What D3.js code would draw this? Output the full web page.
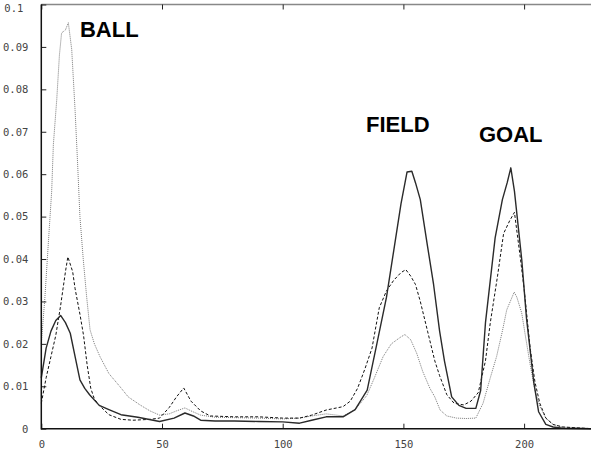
<!DOCTYPE html>
<html><head><meta charset="utf-8">
<script src="https://cdn.jsdelivr.net/npm/d3@7"></script>
<style>html,body{margin:0;padding:0;background:#fff;}svg{display:block;}</style>
</head><body>
<svg id="c" width="591" height="450"></svg>
<script>
// ---- data ----
const xTicks = [0, 50, 100, 150, 200];
const yTicks = [0, 0.01, 0.02, 0.03, 0.04, 0.05, 0.06, 0.07, 0.08, 0.09, 0.1];
const yTickLabels = ["0", "0.01", "0.02", "0.03", "0.04", "0.05", "0.06", "0.07", "0.08", "0.09", "0.1"];

const solidX = [0,2,4,6,8,10,12,14,16,18,20,24,28,33,40,49,55,59.5,63,66,72,80,90,100,107,112,118,125,130,135,139,143,146,149,151.5,153.5,155,157,160,162.5,165,167,170,173,176,180,182,184,188,191,193,194.5,196,199,201,203,204,206,209,212,216,228];
const solidY = [0.012,0.019,0.023,0.0255,0.0267,0.025,0.0225,0.017,0.0115,0.0095,0.008,0.0055,0.0045,0.0033,0.0027,0.0017,0.0025,0.0037,0.003,0.002,0.0018,0.0018,0.0017,0.0016,0.0013,0.002,0.0028,0.0028,0.0045,0.0091,0.02,0.031,0.042,0.053,0.0605,0.0607,0.058,0.054,0.043,0.034,0.023,0.016,0.0075,0.0055,0.0048,0.0048,0.009,0.025,0.045,0.054,0.058,0.0615,0.056,0.04,0.026,0.016,0.011,0.004,0.001,0.0004,0.0001,0];

const dashX = [0,2,4,6,8,10,11,13,14,16,17.5,19,20.5,22,24,28,33,38,45,49,53,56,59,62,66,70,80,90,100,107,112,118,125,128,131,134,137,140,143,146,149,151,153,155,157,160,163,165,168,171,175,178,181,184,186,189,191.5,194,196,198.5,200,202.5,204.5,206.5,209,212,216,222,228];
const dashY = [0.006,0.012,0.017,0.022,0.029,0.037,0.0405,0.037,0.033,0.027,0.022,0.015,0.0095,0.007,0.0055,0.0033,0.0022,0.002,0.0022,0.0025,0.005,0.0075,0.0096,0.0065,0.0042,0.003,0.0028,0.0028,0.0025,0.0025,0.0032,0.0044,0.0052,0.0065,0.0095,0.014,0.019,0.0285,0.0325,0.035,0.0368,0.0375,0.036,0.034,0.03,0.023,0.016,0.0125,0.008,0.006,0.0056,0.0065,0.0085,0.016,0.025,0.036,0.046,0.049,0.051,0.04,0.033,0.019,0.011,0.006,0.0025,0.001,0.0004,0.0002,0];

const dotX = [0,1.5,3,4.3,5,6.4,7.5,8.4,10,11.2,12.6,14,15,16,17.4,18.8,20.2,22,24.3,28,32.6,36,40.9,45,49,53,56,59.5,62,66,72,80,90,100,107,112,118,125,130,134.8,138,141.6,145,148.6,150.6,153,155.5,158,161,163,165.2,168,172,176,180,183,186,188.6,191,192.8,195.9,197,199,200.5,202.4,204.5,206.6,209,212,216,223,228];
const dotY = [0.02,0.031,0.0445,0.056,0.067,0.0776,0.088,0.0933,0.094,0.0957,0.0894,0.075,0.063,0.05,0.0398,0.031,0.0233,0.02,0.017,0.013,0.0099,0.0075,0.0056,0.0042,0.0032,0.0035,0.0042,0.0049,0.0042,0.0032,0.0027,0.0026,0.0025,0.0023,0.0025,0.003,0.0035,0.003,0.0045,0.0078,0.012,0.017,0.02,0.0215,0.0222,0.021,0.0178,0.0135,0.0095,0.0075,0.0044,0.003,0.0025,0.0024,0.0025,0.006,0.012,0.017,0.023,0.028,0.0322,0.031,0.0273,0.022,0.0155,0.009,0.0052,0.0025,0.001,0.0004,0.0002,0];

const labels = ["BALL", "FIELD", "GOAL"];
const labelX = [16.0, 134.5, 181.3];
const labelY = [0.0923, 0.0699, 0.0676];

// ---- chart ----
const svg = d3.select("#c");
const x0 = 41.3, xUnit = 2.414;
const x = d3.scaleLinear().domain([0, 256]).range([x0, x0 + 256 * xUnit]);
const y = d3.scaleLinear().domain([0, 0.1]).range([428.7, 4.5]);

// top frame line
svg.append("line").attr("x1", x0).attr("x2", 591).attr("y1", y(0.1)).attr("y2", y(0.1))
  .attr("stroke", "#888").attr("stroke-width", 1.5);

// top ticks (mirror)
const topAxis = d3.axisTop(x).tickValues(xTicks).tickSize(-5).tickFormat("");
svg.append("g").attr("transform", `translate(0,${y(0.1)})`).call(topAxis)
  .call(g => g.select(".domain").remove())
  .call(g => g.selectAll("line").attr("stroke", "#222").attr("stroke-width", 1));

// series
function drawLine(xs, ys, stroke, width, dash) {
  const pts = xs.map((d, i) => [d, ys[i]]);
  svg.append("path").datum(pts)
    .attr("fill", "none").attr("stroke", stroke).attr("stroke-width", width)
    .attr("stroke-dasharray", dash)
    .attr("stroke-linejoin", "round")
    .attr("d", d3.line().x(d => x(d[0])).y(d => y(d[1])));
}
drawLine(dotX, dotY, "#7a7a7a", 1, "1,1");
drawLine(dashX, dashY, "#111", 1, "3,2");
drawLine(solidX, solidY, "#2a2a2a", 1.4, null);

// bottom axis
const xAxis = d3.axisBottom(x).tickValues(xTicks).tickSize(-5).tickPadding(12).tickFormat(d3.format("d"));
svg.append("g").attr("transform", `translate(0,${y(0)})`).call(xAxis)
  .call(g => g.select(".domain").remove())
  .call(g => g.selectAll("line").attr("stroke", "#222"))
  .call(g => g.selectAll("text").attr("font-family", "DejaVu Sans Mono").attr("font-size", 10.5).attr("fill", "#444"));
svg.append("line").attr("x1", x0).attr("x2", 591).attr("y1", y(0)).attr("y2", y(0))
  .attr("stroke", "#111").attr("stroke-width", 1.5);

// left axis
const yAxis = d3.axisLeft(y).tickValues(yTicks).tickSize(-5).tickPadding(13)
  .tickFormat((d, i) => yTickLabels[i]);
svg.append("g").attr("transform", `translate(${x0},0)`).call(yAxis)
  .call(g => g.select(".domain").remove())
  .call(g => g.selectAll("line").attr("stroke", "#222"))
  .call(g => g.selectAll("text").attr("font-family", "DejaVu Sans Mono").attr("font-size", 10.5).attr("fill", "#444"))
  .call(g => g.selectAll(".tick").filter(d => d === 0.1).select("text")
    .attr("dy", "0.62em").attr("x", -18));
svg.append("line").attr("x1", x0).attr("x2", x0).attr("y1", y(0.1)).attr("y2", y(0) + 0.75)
  .attr("stroke", "#111").attr("stroke-width", 1.5);

// annotations
svg.selectAll("text.lab").data(labels).enter().append("text").attr("class", "lab")
  .attr("x", (d, i) => x(labelX[i])).attr("y", (d, i) => y(labelY[i]))
  .attr("font-family", "Liberation Sans, Arial, sans-serif").attr("font-weight", "bold")
  .attr("font-size", 22).attr("fill", "#000").text(d => d);
</script>
</body></html>
